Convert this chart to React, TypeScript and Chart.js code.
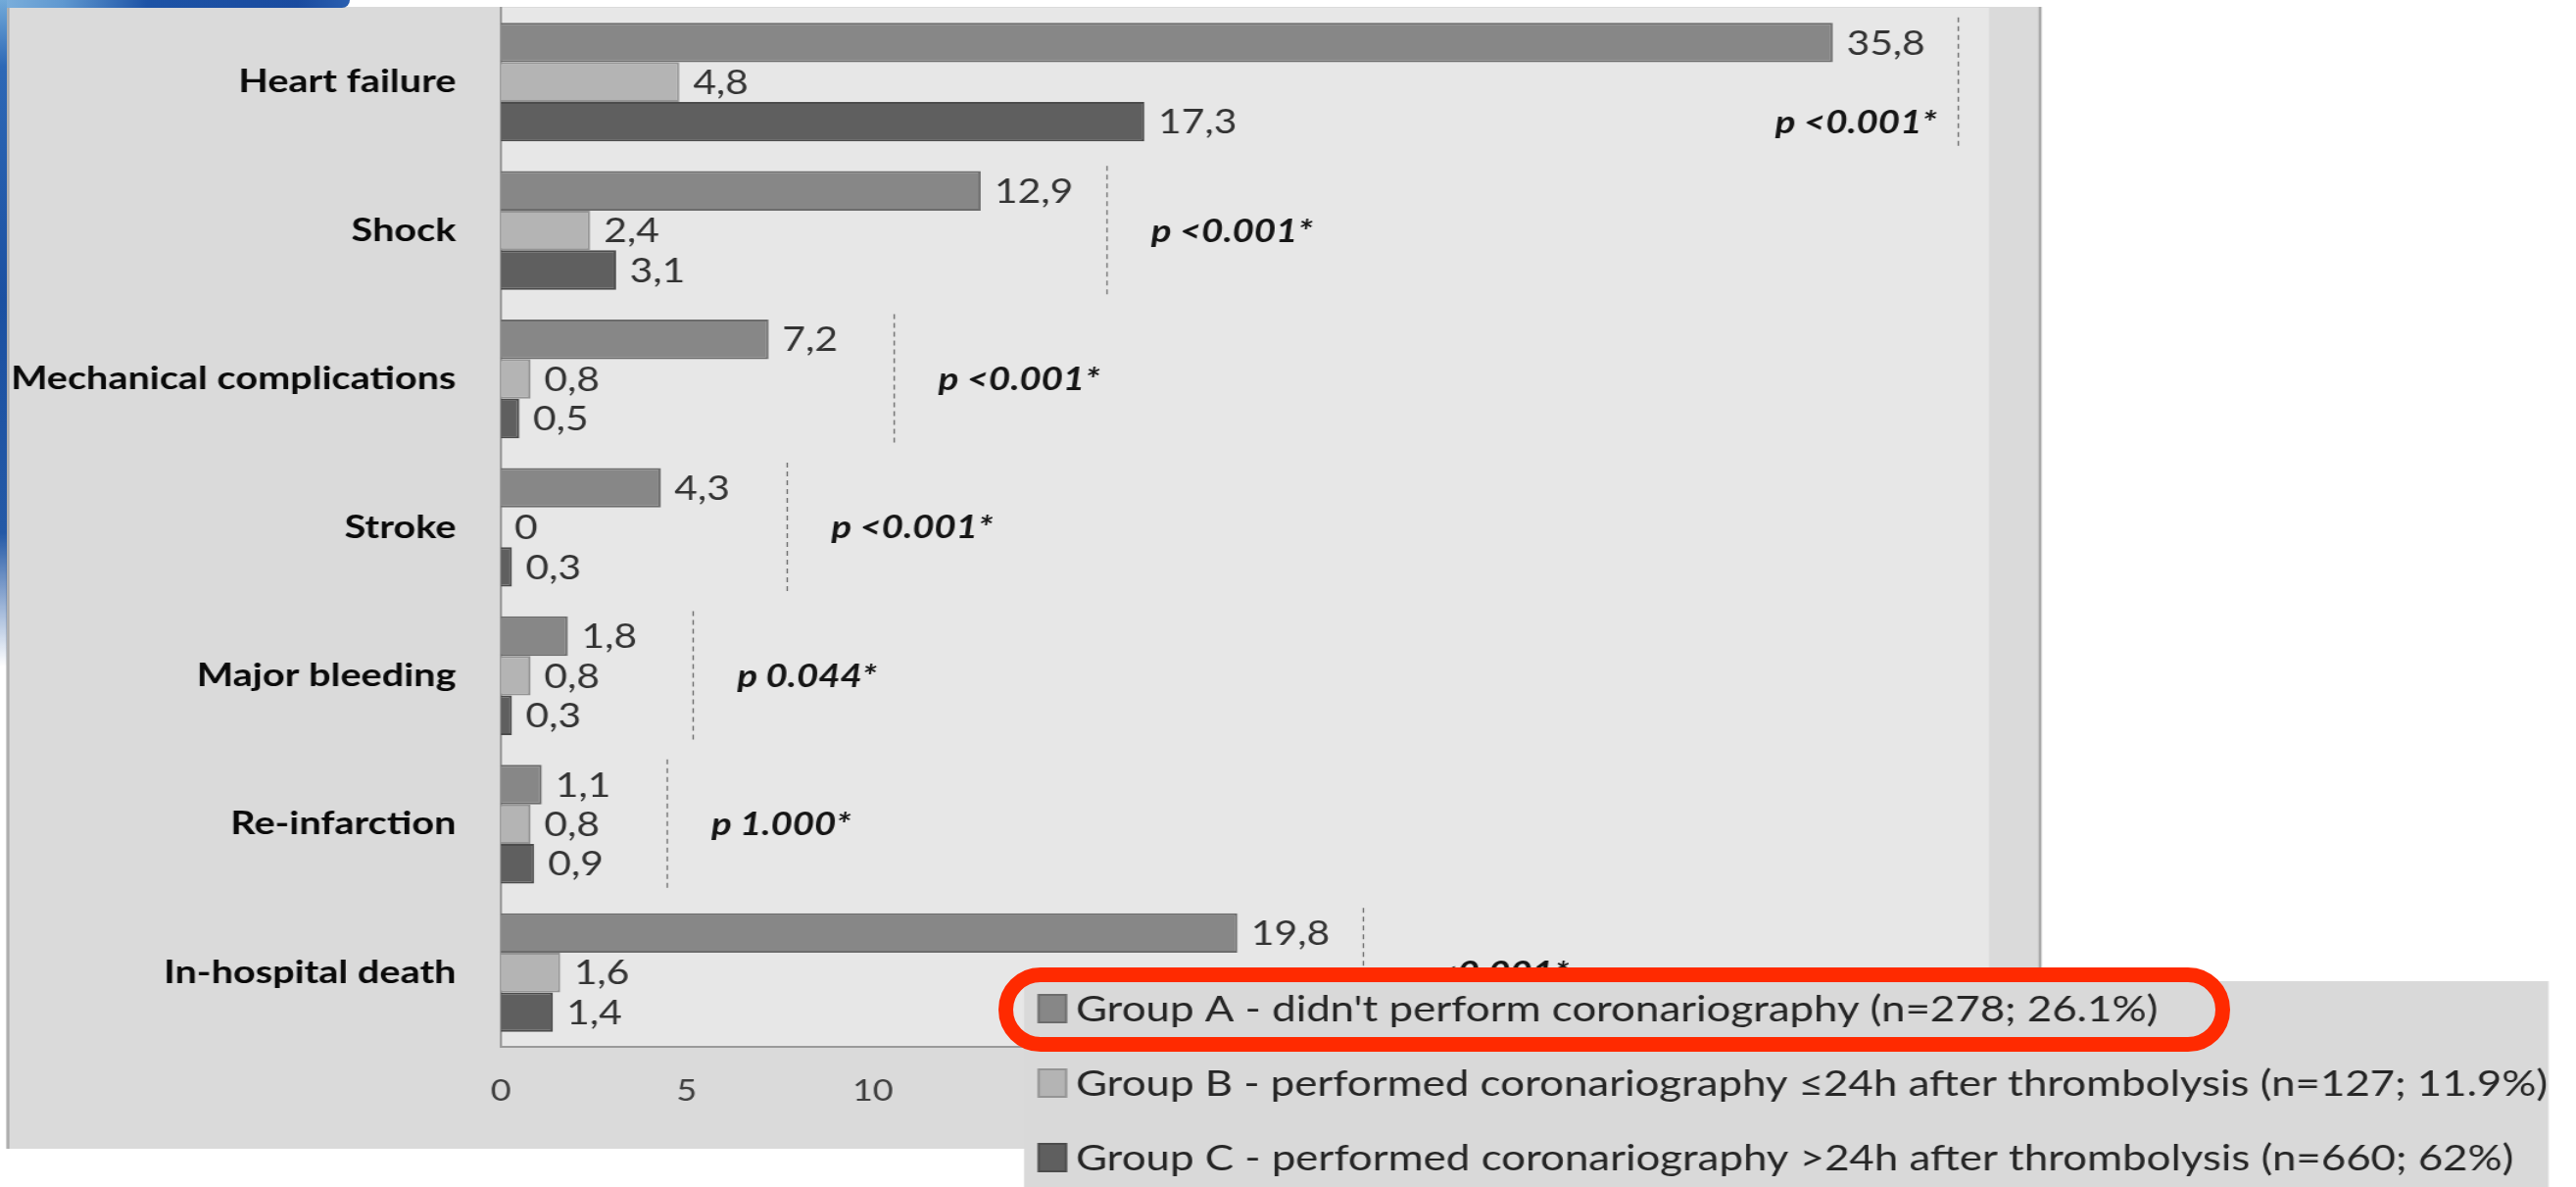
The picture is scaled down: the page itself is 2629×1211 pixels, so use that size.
import React, { useEffect, useRef } from 'react';
import { Chart, registerables } from 'chart.js';

Chart.register(...registerables);

// ---- data ----
const categories = [
  'Heart failure',
  'Shock',
  'Mechanical complications',
  'Stroke',
  'Major bleeding',
  'Re-infarction',
  'In-hospital death',
];
const groupA = [35.8, 12.9, 7.2, 4.3, 1.8, 1.1, 19.8];
const groupB = [4.8, 2.4, 0.8, 0, 0.8, 0.8, 1.6];
const groupC = [17.3, 3.1, 0.5, 0.3, 0.3, 0.9, 1.4];
const pValues = ['p <0.001*', 'p <0.001*', 'p <0.001*', 'p <0.001*', 'p 0.044*', 'p 1.000*', 'p <0.001*'];
const seriesLabels = [
  "Group A - didn't perform coronariography (n=278; 26.1%)",
  'Group B - performed coronariography \u226424h after thrombolysis (n=127; 11.9%)',
  'Group C - performed coronariography >24h after thrombolysis (n=660; 62%)',
];
const xMax = 40;
const xStep = 5;

// ---- layout ----
const PAGE_W = 2629;
const PAGE_H = 1211;
const SX = 1.2; // the figure is drawn horizontally stretched
const W = Math.round(PAGE_W / SX);
const fx = (v: number) => v / SX;
const FONT = 'Lato, "Open Sans", sans-serif';

const fmt = (v: number) => String(v).replace('.', ',');

const panelPlugin = {
  id: 'panel',
  beforeDraw(chart: any) {
    const { ctx, chartArea: a } = chart;
    ctx.save();
    ctx.fillStyle = '#dadada';
    ctx.fillRect(fx(7), 7, fx(2083) - fx(7), 1172 - 7);
    ctx.fillStyle = '#e7e7e7';
    ctx.fillRect(a.left, a.top, a.right - a.left, a.bottom - a.top);
    ctx.strokeStyle = '#a9a9a9';
    ctx.lineWidth = 2.5;
    ctx.beginPath();
    ctx.moveTo(fx(8), 7);
    ctx.lineTo(fx(8), 1172);
    ctx.moveTo(fx(2082), 7);
    ctx.lineTo(fx(2082), 1172);
    ctx.stroke();
    ctx.restore();
  },
};

const annotationPlugin = {
  id: 'valueAnnotations',
  afterDatasetsDraw(chart: any) {
    const { ctx, chartArea: a } = chart;
    const yScale = chart.scales.y;
    const n = chart.data.labels.length;
    ctx.save();
    for (let i = 0; i < n; i++) {
      let maxEnd = a.left;
      let lastY = 0;
      chart.data.datasets.forEach((ds: any, d: number) => {
        const el = chart.getDatasetMeta(d).data[i];
        const v = ds.data[i] as number;
        ctx.font = `34px ${FONT}`;
        ctx.fillStyle = '#333333';
        ctx.textAlign = 'left';
        ctx.textBaseline = 'alphabetic';
        ctx.fillText(fmt(v), el.x + fx(14), el.y + 0.358 * 34);
        maxEnd = Math.max(maxEnd, el.x);
        lastY = el.y;
      });
      const cy = yScale.getPixelForValue(i);
      const lineX = Math.round(maxEnd + fx(128)) + 0.5;
      ctx.setLineDash([5, 4]);
      ctx.strokeStyle = '#6e6e6e';
      ctx.lineWidth = 1.2;
      ctx.beginPath();
      ctx.moveTo(lineX, cy - 66);
      ctx.lineTo(lineX, cy + 68);
      ctx.stroke();
      ctx.setLineDash([]);

      ctx.font = `italic bold 32px ${FONT}`;
      ctx.fillStyle = '#151515';
      const txt = pValues[i];
      const w = ctx.measureText(txt).width;
      if (lineX + fx(45) + w > a.right) {
        ctx.textAlign = 'right';
        ctx.fillText(txt, lineX - fx(22), lastY + 0.358 * 32);
      } else {
        ctx.textAlign = 'left';
        ctx.fillText(txt, lineX + fx(45), cy + 0.358 * 32);
      }
    }
    ctx.restore();
  },
};

const legendPlugin = {
  id: 'legendBox',
  afterDraw(chart: any) {
    const { ctx } = chart;
    const top = 1001;
    ctx.save();
    ctx.fillStyle = '#d9d9d9';
    ctx.fillRect(fx(1045), top, fx(2601) - fx(1045), PAGE_H - top);
    chart.data.datasets.forEach((ds: any, d: number) => {
      const cy = top + 28 + d * 76;
      ctx.fillStyle = ds.backgroundColor;
      ctx.strokeStyle = ds.borderColor;
      ctx.lineWidth = 2;
      ctx.fillRect(fx(1060), cy - 14, fx(28), 28);
      ctx.strokeRect(fx(1060), cy - 14, fx(28), 28);
      ctx.font = `36.5px ${FONT}`;
      ctx.fillStyle = '#262626';
      ctx.textAlign = 'left';
      ctx.textBaseline = 'alphabetic';
      ctx.fillText(ds.label, fx(1098), cy + 0.358 * 36.5);
    });
    ctx.restore();
  },
};

export default function App() {
  const ref = useRef<HTMLCanvasElement>(null);

  useEffect(() => {
    const leftPad = fx(7);
    const chart = new Chart(ref.current as HTMLCanvasElement, {
      type: 'bar',
      data: {
        labels: categories,
        datasets: [
          { label: seriesLabels[0], data: groupA, backgroundColor: '#878787', borderColor: '#6c6c6c' },
          { label: seriesLabels[1], data: groupB, backgroundColor: '#b4b4b4', borderColor: '#949494' },
          { label: seriesLabels[2], data: groupC, backgroundColor: '#5f5f5f', borderColor: '#4c4c4c' },
        ],
      },
      options: {
        indexAxis: 'y',
        responsive: false,
        animation: false,
        devicePixelRatio: 1,
        layout: { padding: { left: leftPad, right: W - fx(2030), top: 8, bottom: 0 } },
        datasets: { bar: { categoryPercentage: 0.8, barPercentage: 1, borderWidth: 2 } },
        plugins: { legend: { display: false }, tooltip: { enabled: false } },
        scales: {
          x: {
            type: 'linear',
            min: 0,
            max: xMax,
            grid: { display: false },
            border: { display: true, color: '#9a9a9a', width: 2 },
            ticks: { stepSize: xStep, color: '#404040', padding: 19, font: { family: FONT, size: 30 } },
            afterFit: (s: any) => {
              s.height = PAGE_H - 1068;
              s.paddingLeft = 0;
              s.paddingRight = 0;
            },
          },
          y: {
            type: 'category',
            grid: { display: false },
            border: { display: true, color: '#9a9a9a', width: 2 },
            ticks: { color: '#0a0a0a', padding: 30, autoSkip: false, font: { family: FONT, size: 33, weight: 'bold' } },
            afterFit: (s: any) => {
              s.width = fx(511) - leftPad;
              s.paddingTop = 0;
              s.paddingBottom = 0;
            },
          },
        },
      },
      plugins: [panelPlugin, annotationPlugin, legendPlugin],
    } as any);
    return () => chart.destroy();
  }, []);

  return (
    <div style={{ position: 'absolute', left: 0, top: 0, width: PAGE_W, height: PAGE_H, overflow: 'hidden', background: '#fff' }}>
      <div style={{ position: 'absolute', left: 0, top: 0, width: W, height: PAGE_H, transform: `scaleX(${SX})`, transformOrigin: '0 0' }}>
        <canvas ref={ref} width={W} height={PAGE_H} style={{ display: 'block' }} />
      </div>
      <div style={{ position: 'absolute', left: 0, top: 0, width: 357, height: 8, borderBottomRightRadius: 30, background: 'linear-gradient(90deg, #7db0dc 0%, #5f98d0 18%, #1d53a6 42%, #1a4b9f 85%, #2a5fb0 100%)' }} />
      <div style={{ position: 'absolute', left: 0, top: 0, width: 7, height: 680, background: 'linear-gradient(180deg, #72aad9 0%, #2d68b6 10%, #1b50a1 45%, #2459a6 80%, rgba(255,255,255,0) 100%)' }} />
      <div style={{ position: 'absolute', left: 1019, top: 987, width: 1257, height: 86, border: '15px solid #ff2a00', borderRadius: 44, boxSizing: 'border-box' }} />
    </div>
  );
}
